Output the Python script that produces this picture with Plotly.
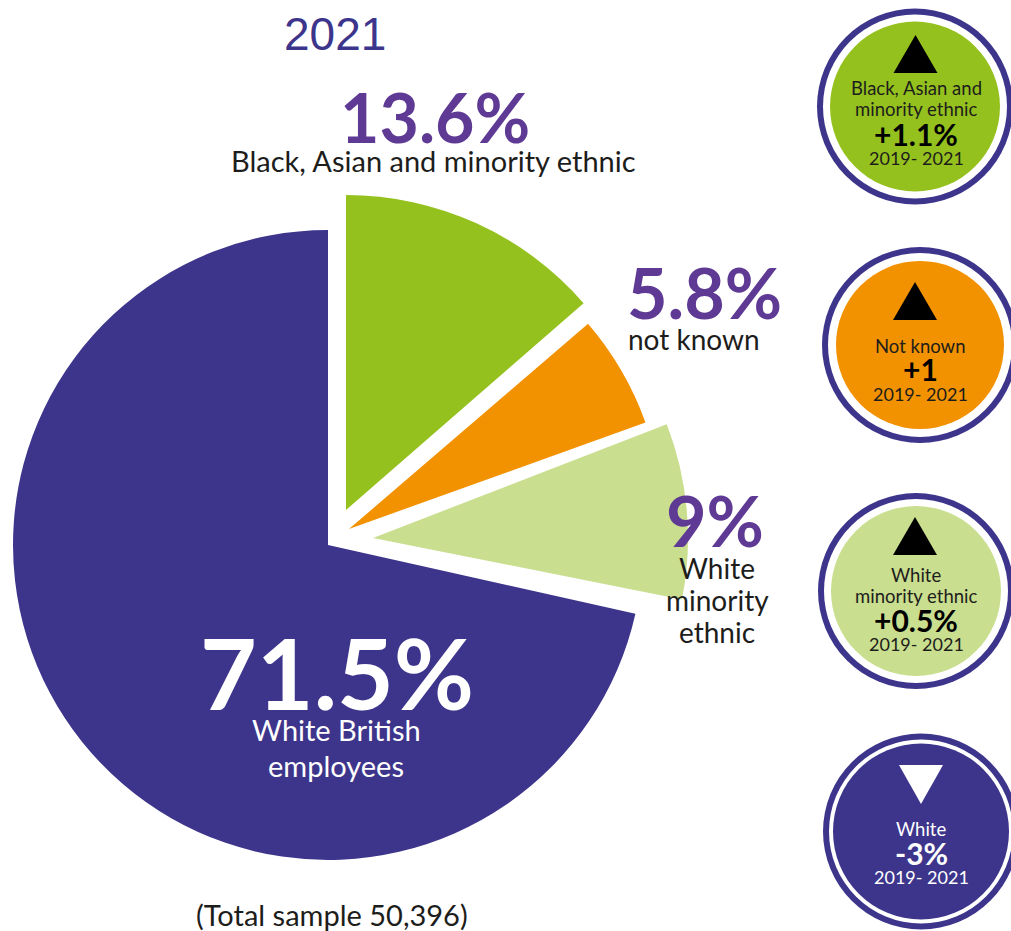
import plotly.graph_objects as go

W, H = 1011, 931

# data
categories = ["Black, Asian and minority ethnic", "Not known", "White minority ethnic", "White British employees"]
shares = [13.6, 5.8, 9.0, 71.5]
share_labels = ["13.6%", "5.8%", "9%", "71.5%"]
changes = ["+1.1%", "+1", "+0.5%", "-3%"]
badge_names = ["Black, Asian and<br>minority ethnic", "Not known", "White<br>minority ethnic", "White"]
period = "2019- 2021"
year = "2021"
sample_note = "(Total sample 50,396)"

# styling / layout
NAVY, PURPLE = "#3d358b", "#5f3a94"
colors = ["#95c11f", "#f39200", "#c9de8e", NAVY]
apexes = [(346, 510), (349, 529), (373, 538), (328, 545)]
rotation_nudge = [0, 0.4, -1.0, 0]
RADIUS = 315
FONT = "Lato"


def px(x):
    return x / W


def py(y):
    return 1 - y / H


fig = go.Figure()
start = 0.0
for i, (name, v) in enumerate(zip(categories, shares)):
    ax, ay = apexes[i]
    rot = start if i < 3 else 100 - v
    fig.add_trace(go.Pie(
        labels=[name, "rest"], values=[v, 100 - v], sort=False, direction="clockwise",
        rotation=rot * 3.6 + rotation_nudge[i],
        marker=dict(colors=[colors[i], "rgba(0,0,0,0)"], line=dict(width=0)),
        textinfo="none", hoverinfo="label+percent", showlegend=False,
        domain=dict(x=[px(ax - RADIUS), px(ax + RADIUS)], y=[py(ay + RADIUS), py(ay - RADIUS)]),
    ))
    start += v

ann = []


def text(x, y, s, size, color="#1d1d1b", bold=False, family=FONT):
    t = f"<b>{s}</b>" if bold else s
    ann.append(dict(x=px(x), y=py(y), xref="paper", yref="paper", text=t, showarrow=False,
                    xanchor="center", yanchor="middle", align="center",
                    font=dict(size=size, color=color, family=family)))


text(335, 34, year, 46, NAVY, family="Liberation Sans")
text(435, 116, share_labels[0], 68, PURPLE, True)
text(433, 161, categories[0], 29)
text(704, 292, share_labels[1], 70, PURPLE, True)
text(694, 339, "not known", 28)
text(715, 520, share_labels[2], 70, PURPLE, True)
text(717, 568, "White", 28)
text(717, 600, "minority", 28)
text(717, 632, "ethnic", 28)
text(337, 672, share_labels[3], 98, "white", True)
text(336, 729, "White British", 29, "white")
text(336, 765, "employees", 29, "white")
text(332, 914, sample_note, 29)

badges = [
    dict(c=(915, 106.5), r=98, fill=85, tri=(915.5, 35, 73, 1), name_y=[88, 109], chg=134, per=158),
    dict(c=(920, 345), r=98, fill=84, tri=(915, 282, 320, 1), name_y=[346], chg=369, per=394),
    dict(c=(916, 591), r=98, fill=85, tri=(915, 517, 555, 1), name_y=[575, 596], chg=620, per=644),
    dict(c=(921, 831.5), r=98, fill=88, tri=(921, 804, 765, -1), name_y=[829], chg=853, per=877),
]

shapes = []
for i, b in enumerate(badges):
    cx, cy = b["c"]

    def disc(r, col):
        return dict(type="circle", xref="paper", yref="paper", x0=px(cx - r), x1=px(cx + r),
                    y0=py(cy + r), y1=py(cy - r), fillcolor=col, line=dict(width=0), layer="above")

    shapes += [disc(b["r"], NAVY), disc(b["r"] - 6, "white"), disc(b["fill"], colors[i])]
    tx, ty0, ty1, d = b["tri"]
    shapes.append(dict(type="path", xref="paper", yref="paper",
                       path=f"M {px(tx - 22)} {py(ty1)} L {px(tx + 22)} {py(ty1)} L {px(tx)} {py(ty0)} Z",
                       fillcolor="black" if d > 0 else "white", line=dict(width=0), layer="above"))
    col = "#1d1d1b" if d > 0 else "white"
    lines = badge_names[i].split("<br>")
    for ln, yy in zip(lines, b["name_y"]):
        text(cx if i in (1, 3) else 916, yy, ln, 18.5, col)
    text(cx if i in (1, 3) else 916, b["chg"], changes[i], 30, "black" if d > 0 else "white", True)
    text(cx if i in (1, 3) else 916, b["per"], period, 18, col)

fig.update_layout(width=W, height=H, margin=dict(l=0, r=0, t=0, b=0), paper_bgcolor="white",
                  annotations=ann, shapes=shapes, showlegend=False)
fig.write_html("out.html", config=dict(displayModeBar=False),
               post_script="document.body.style.margin='0';document.body.style.overflow='hidden';")
